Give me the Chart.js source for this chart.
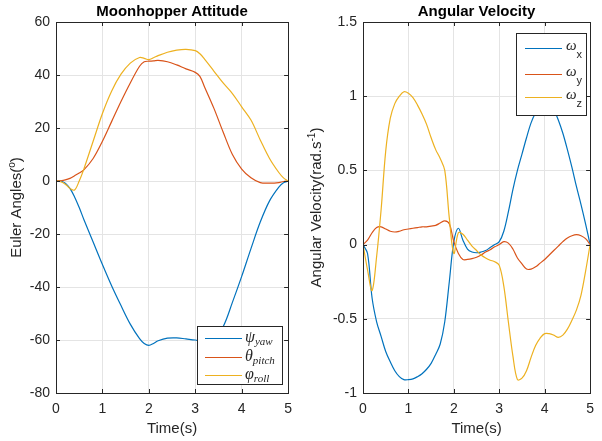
<!DOCTYPE html>
<html>
<head>
<meta charset="utf-8">
<script src="https://cdn.jsdelivr.net/npm/chart.js@4.4.1/dist/chart.umd.min.js"></script>
<style>
    body { margin: 0; background: #fff; }
    #wrap { position: relative; width: 602px; height: 441px; }
    canvas { position: absolute; top: 0; }
    #attitudeChart { left: 0; }
    #velocityChart { left: 300px; }
</style>
</head>
<body>
<div id="wrap">
    <canvas id="attitudeChart" width="300" height="441"></canvas>
    <canvas id="velocityChart" width="302" height="441"></canvas>
</div>
<script>
// Shared axis ticks
const timeTicks = [0, 1, 2, 3, 4, 5];
const angleTicks = [-80, -60, -40, -20, 0, 20, 40, 60];
const rateTicks = [-1, -0.5, 0, 0.5, 1, 1.5];

// Attitude (deg)
const tAttitude = [0, 0.1, 0.2, 0.3, 0.4, 0.5, 0.6, 0.8, 1.0, 1.2, 1.4, 1.6, 1.8, 1.9, 2.0, 2.1, 2.2,
    2.4, 2.6, 2.8, 3.0, 3.1, 3.2, 3.4, 3.6, 3.8, 4.0, 4.2, 4.4, 4.6, 4.8, 4.9, 5.0];
const yaw = [0, 0, -0.8, -2.8, -6, -10, -14.5, -23, -31.5, -39.6, -47, -54, -59.5, -61.3, -62, -61.3, -60.3,
    -59.3, -59.2, -59.6, -60, -60.3, -60.4, -59.5, -55, -45.8, -36, -25.5, -15.5, -7.5, -2.3, -0.7, 0];
const pitch = [0, 0.1, 0.4, 1, 2, 3, 4.2, 8.5, 15, 22.5, 30, 37, 43.3, 45, 45.2, 45.3, 45.5,
    45, 43.8, 42.3, 41, 39.5, 35.5, 27.5, 18.5, 10, 4.5, 1.2, -0.6, -0.8, -0.6, -0.2, 0];
const roll = [0, -0.3, -1.2, -2.8, -3.4, 0, 4.5, 15, 25.5, 34, 40.3, 44.5, 46.6, 46.3, 45.8, 46.5, 47.3,
    48.6, 49.4, 49.7, 49.2, 48, 46, 41.5, 37, 33, 28, 23, 15.5, 8.5, 3.2, 1.2, 0];
const attitudeSymbols = ["ψ", "θ", "φ"];
const attitudeSubs = ["yaw", "pitch", "roll"];

// Angular velocity (rad/s)
const tRate = [0, 0.1, 0.2, 0.3, 0.4, 0.5, 0.6, 0.7, 0.8, 0.9, 1.0, 1.1, 1.2, 1.3, 1.4, 1.5, 1.6, 1.7, 1.8, 1.9,
    2.0, 2.1, 2.2, 2.3, 2.4, 2.5, 2.6, 2.7, 2.8, 2.9, 3.0, 3.1, 3.2, 3.3, 3.4, 3.5, 3.6, 3.7, 3.8, 3.9,
    4.0, 4.1, 4.2, 4.3, 4.4, 4.5, 4.6, 4.7, 4.8, 4.9, 5.0];
const wx = [0, -0.06, -0.36, -0.52, -0.62, -0.72, -0.79, -0.85, -0.89, -0.91,
    -0.91, -0.905, -0.89, -0.87, -0.84, -0.8, -0.74, -0.67, -0.52, -0.25,
    0.02, 0.11, 0.03, -0.03, -0.05, -0.055, -0.05, -0.04, -0.02, 0,
    0.02, 0.09, 0.22, 0.37, 0.5, 0.61, 0.72, 0.82, 0.89, 0.94,
    0.96, 0.95, 0.91, 0.84, 0.75, 0.64, 0.52, 0.39, 0.27, 0.14, 0];
const wy = [0, 0.03, 0.08, 0.115, 0.12, 0.105, 0.09, 0.085, 0.09, 0.1,
    0.105, 0.11, 0.115, 0.12, 0.12, 0.125, 0.13, 0.145, 0.16, 0.14,
    0.02, -0.06, -0.1, -0.1, -0.095, -0.085, -0.07, -0.05, -0.035, -0.015,
    0, 0.02, 0.01, -0.03, -0.09, -0.13, -0.165, -0.165, -0.15, -0.125,
    -0.1, -0.07, -0.04, -0.01, 0.02, 0.045, 0.06, 0.067, 0.06, 0.04, 0];
const wz = [0, -0.17, -0.31, -0.08, 0.24, 0.63, 0.85, 0.95, 1.0, 1.03,
    1.02, 0.99, 0.94, 0.88, 0.81, 0.72, 0.64, 0.58, 0.5, 0.18,
    -0.06, 0.08, 0.07, 0.03, -0.01, -0.04, -0.07, -0.09, -0.105, -0.115,
    -0.14, -0.28, -0.52, -0.75, -0.91, -0.9, -0.85, -0.76, -0.68, -0.63,
    -0.6, -0.6, -0.61, -0.625, -0.61, -0.57, -0.51, -0.44, -0.34, -0.18, 0];
const rateSymbols = ["ω", "ω", "ω"];
const rateSubs = ["x", "y", "z"];

// Look
const COLORS = ["#0072BD", "#D95319", "#EDB120"];
const INK = "#262626";
const GRID = "#e4e4e4";
const SANS = "'Liberation Sans', Arial, sans-serif";
const SERIF = "'Liberation Serif', 'DejaVu Serif', serif";

function pts(t, v) {
    return t.map((x, i) => ({ x: x, y: v[i] }));
}

// draw a run of text pieces, each with its own font and vertical shift
function drawRich(c, parts, x, y, align) {
    let total = 0;
    parts.forEach(p => { c.font = p.font; total += c.measureText(p.text).width; });
    let cx = align === "center" ? x - total / 2 : x;
    c.textAlign = "left";
    c.textBaseline = "alphabetic";
    parts.forEach(p => {
        c.font = p.font;
        c.fillText(p.text, cx, y + (p.dy || 0));
        cx += c.measureText(p.text).width;
    });
}

function framePlugin(spec) {
    return {
        id: "frame",
        afterDatasetsDraw(chart) {
            const c = chart.ctx;
            const a = chart.chartArea;
            const xs = chart.scales.x, ys = chart.scales.y;
            c.save();

            // axes box with inward ticks
            c.strokeStyle = INK;
            c.lineWidth = 1;
            c.strokeRect(Math.round(a.left) + 0.5, Math.round(a.top) + 0.5,
                Math.round(a.right - a.left), Math.round(a.bottom - a.top));
            c.beginPath();
            xs.ticks.forEach(t => {
                const p = Math.round(xs.getPixelForValue(t.value)) + 0.5;
                c.moveTo(p, a.bottom); c.lineTo(p, a.bottom - 4);
                c.moveTo(p, a.top); c.lineTo(p, a.top + 4);
            });
            ys.ticks.forEach(t => {
                const p = Math.round(ys.getPixelForValue(t.value)) + 0.5;
                c.moveTo(a.left, p); c.lineTo(a.left + 4, p);
                c.moveTo(a.right, p); c.lineTo(a.right - 4, p);
            });
            c.stroke();

            // legend
            const L = spec.legend;
            c.fillStyle = "#fff";
            c.fillRect(L.x, L.y, L.w, L.h);
            c.strokeStyle = INK;
            c.strokeRect(L.x + 0.5, L.y + 0.5, L.w, L.h);
            chart.data.datasets.forEach((ds, i) => {
                const y = L.rows[i];
                c.strokeStyle = ds.borderColor;
                c.lineWidth = 1.2;
                c.beginPath();
                c.moveTo(L.x0, y + 0.5); c.lineTo(L.x1, y + 0.5);
                c.stroke();
                c.fillStyle = INK;
                drawRich(c, [
                    { text: ds.sym, font: L.symFont, dy: L.symDy },
                    { text: ds.sub, font: L.subFont, dy: L.subDy }
                ], L.tx, y, "left");
            });

            // title and axis labels
            const mid = (a.left + a.right) / 2;
            c.fillStyle = "#000";
            drawRich(c, [{ text: spec.title, font: "bold 15px " + SANS }], mid, 16, "center");
            c.fillStyle = INK;
            drawRich(c, [{ text: "Time(s)", font: "15px " + SANS }], mid, 433, "center");
            c.translate(21, (a.top + a.bottom) / 2);
            c.rotate(-Math.PI / 2);
            drawRich(c, spec.yLabel, 0, 0, "center");
            c.restore();
        }
    };
}

function buildChart(canvasId, spec) {
    const ctx = document.getElementById(canvasId).getContext("2d");
    const tickFont = { family: SANS, size: 14 };
    const yTicks = spec.yTicks;
    return new Chart(ctx, {
        type: "line",
        data: {
            datasets: spec.series.map((values, i) => ({
                label: spec.symbols[i] + spec.subs[i],
                sym: spec.symbols[i],
                sub: spec.subs[i],
                data: pts(spec.time, values),
                borderColor: COLORS[i],
                borderWidth: 1.2,
                pointRadius: 0,
                fill: false,
                tension: 0.35,
                order: 3 - i,
            })),
        },
        options: {
            responsive: false,
            animation: false,
            events: [],
            layout: { padding: spec.padding },
            plugins: {
                legend: { display: false },
                tooltip: { enabled: false },
            },
            scales: {
                x: {
                    type: "linear",
                    min: 0,
                    max: 5,
                    afterBuildTicks: sc => { sc.ticks = timeTicks.map(v => ({ value: v })); },
                    afterFit: sc => { sc.height = 48; },
                    grid: { color: GRID, drawTicks: false },
                    border: { display: false },
                    ticks: { font: tickFont, color: INK, padding: 8, maxRotation: 0, callback: v => String(v) },
                },
                y: {
                    type: "linear",
                    min: yTicks[0],
                    max: yTicks[yTicks.length - 1],
                    afterBuildTicks: sc => { sc.ticks = yTicks.map(v => ({ value: v })); },
                    afterFit: sc => { sc.width = spec.yWidth; },
                    grid: { color: GRID, drawTicks: false },
                    border: { display: false },
                    ticks: { font: tickFont, color: INK, padding: 6, callback: v => String(v) },
                },
            },
        },
        plugins: [framePlugin(spec)],
    });
}

buildChart("attitudeChart", {
    title: "Moonhopper Attitude",
    time: tAttitude,
    series: [yaw, pitch, roll],
    symbols: attitudeSymbols,
    subs: attitudeSubs,
    yTicks: angleTicks,
    yWidth: 56,
    padding: { left: 0, right: 10, top: 22, bottom: 0 },
    yLabel: [
        { text: "Euler Angles(", font: "15px " + SANS },
        { text: "o", font: "10px " + SANS, dy: -6 },
        { text: ")", font: "15px " + SANS },
    ],
    legend: {
        x: 197, y: 326, w: 85, h: 58,
        rows: [338, 357, 375],
        x0: 205, x1: 242, tx: 245,
        symFont: "italic 16px " + SERIF, symDy: 4,
        subFont: "italic 11px " + SERIF, subDy: 7,
    },
});

buildChart("velocityChart", {
    title: "Angular Velocity",
    time: tRate,
    series: [wx, wy, wz],
    symbols: rateSymbols,
    subs: rateSubs,
    yTicks: rateTicks,
    yWidth: 63,
    padding: { left: 0, right: 5, top: 22, bottom: 0 },
    yLabel: [
        { text: "Angular Velocity(rad.s", font: "15px " + SANS },
        { text: "-1", font: "10px " + SANS, dy: -6 },
        { text: ")", font: "15px " + SANS },
    ],
    legend: {
        x: 216, y: 33, w: 70, h: 82,
        rows: [48, 74, 97],
        x0: 225, x1: 262, tx: 266,
        symFont: "italic 15px " + SERIF, symDy: 2,
        subFont: "11px " + SANS, subDy: 10,
    },
});
</script>
</body>
</html>
